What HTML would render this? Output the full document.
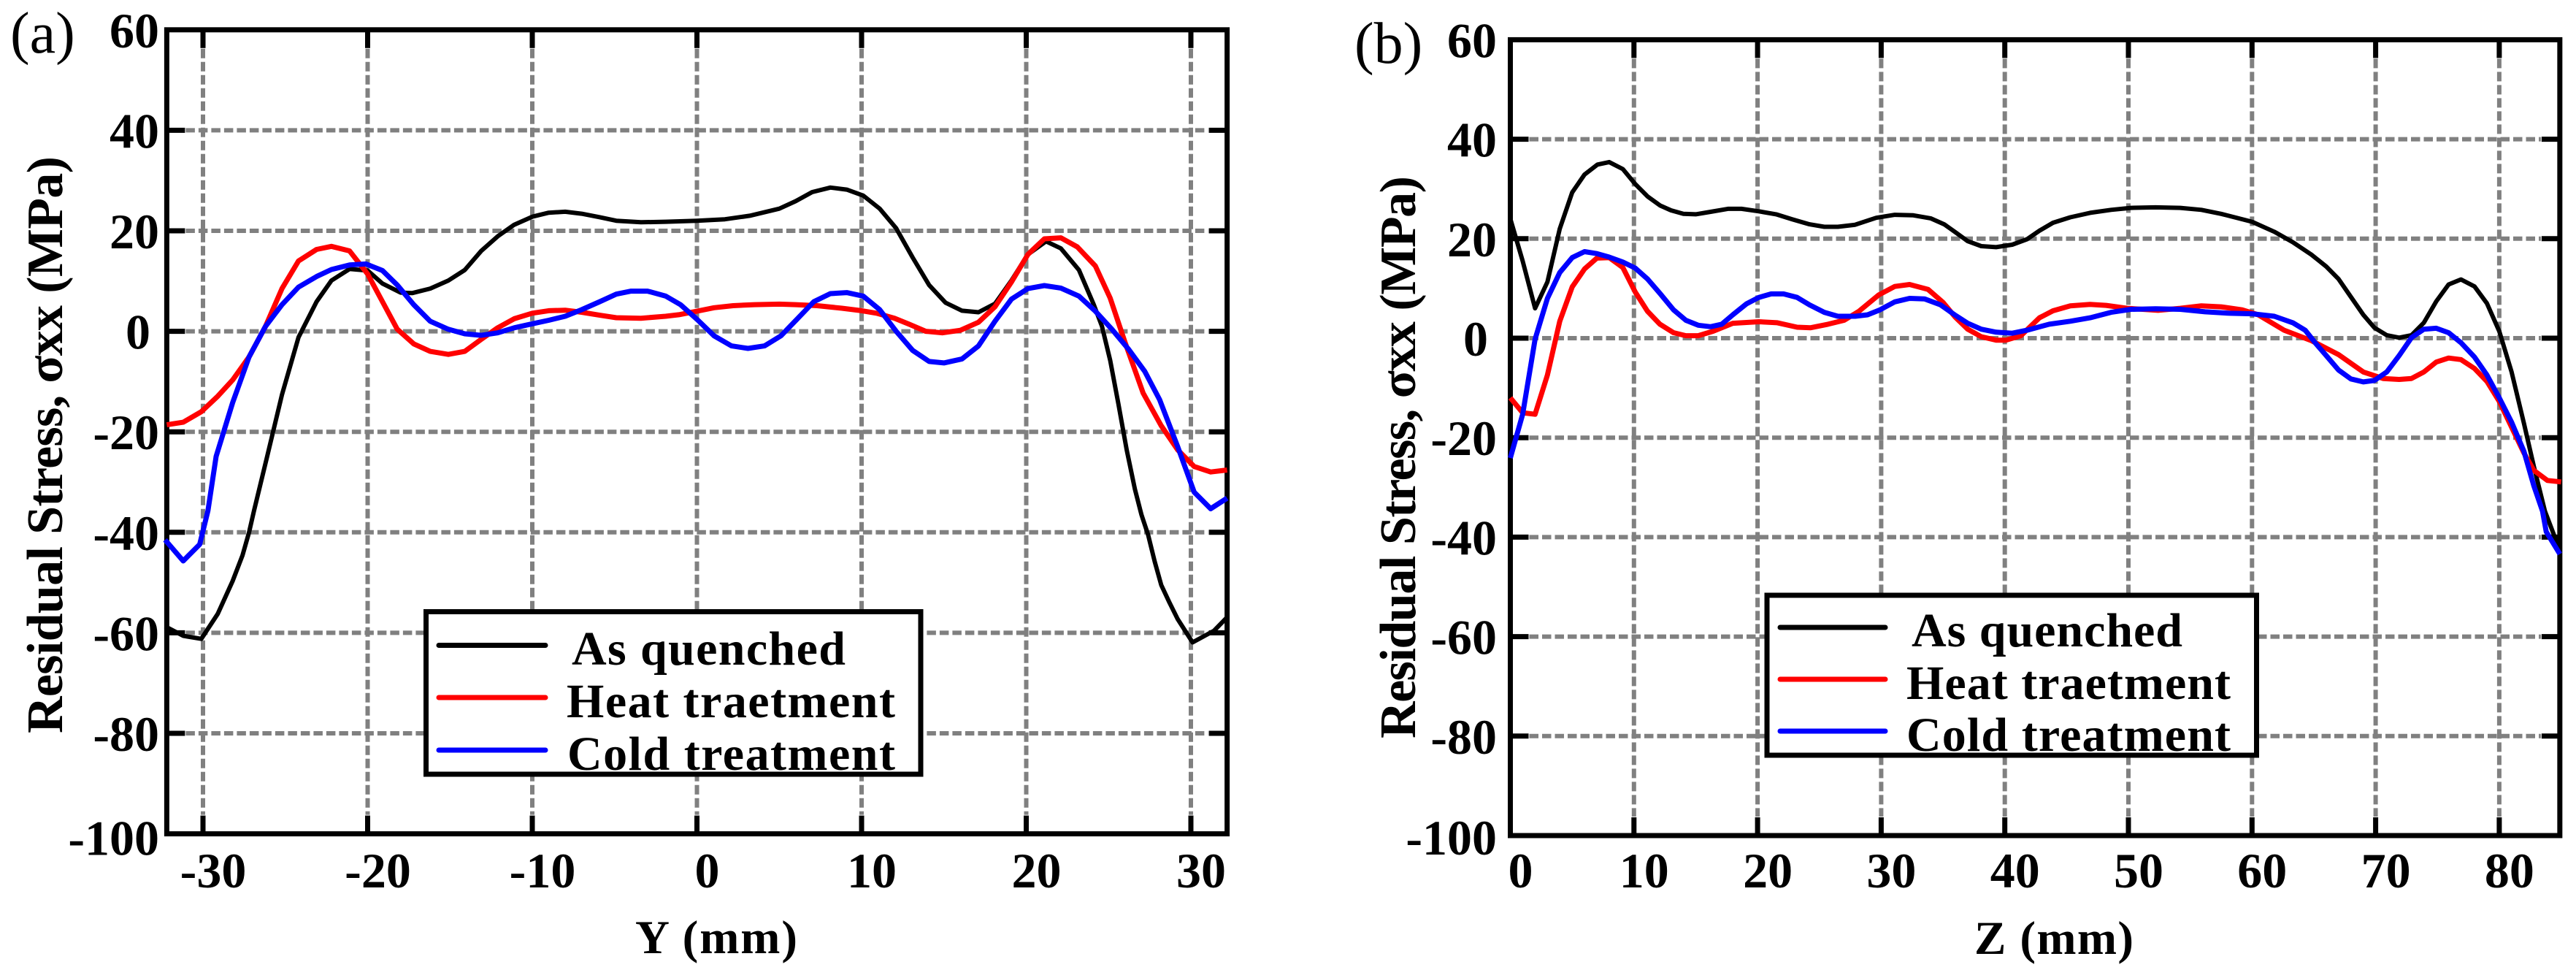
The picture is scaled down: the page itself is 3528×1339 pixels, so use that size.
<!DOCTYPE html>
<html lang="en">
<head>
<meta charset="utf-8">
<title>Residual stress profiles</title>
<style>
html,body{margin:0;padding:0;background:#fff;width:3528px;height:1339px;overflow:hidden}
svg{display:block}
text{font-family:"Liberation Serif",serif;fill:#000}
.b{font-weight:bold}
</style>
</head>
<body>
<svg id="figure" xmlns="http://www.w3.org/2000/svg" width="3528" height="1339" viewBox="0 0 3528 1339">
  <rect x="0" y="0" width="3528" height="1339" fill="#fff"></rect>
  <g id="panelA"></g>
  <g id="panelB"></g>

  <text x="14" y="72" font-size="80">(a)</text>
  <text class="b" x="85" y="1004" font-size="70" textLength="790" lengthAdjust="spacing" transform="rotate(-90 85 1004)">Residual Stress, σxx (MPa)</text>
  <text class="b" x="870" y="1305" font-size="65" textLength="222" lengthAdjust="spacing">Y (mm)</text>

  <g>
    <rect x="583.5" y="837.5" width="677.5" height="222.5" fill="#fff" stroke="#000" stroke-width="7"></rect>
    <line x1="601" x2="747" y1="883.5" y2="883.5" stroke="#000" stroke-width="7" stroke-linecap="round"></line>
    <line x1="601" x2="747" y1="955" y2="955" stroke="#f00" stroke-width="7" stroke-linecap="round"></line>
    <line x1="601" x2="747" y1="1027" y2="1027" stroke="#00f" stroke-width="7" stroke-linecap="round"></line>
    <text class="b" x="783" y="910" font-size="66" textLength="375" lengthAdjust="spacing">As quenched</text>
    <text class="b" x="776" y="982" font-size="66" textLength="450" lengthAdjust="spacing">Heat traetment</text>
    <text class="b" x="777" y="1054" font-size="66" textLength="449" lengthAdjust="spacing">Cold treatment</text>
  </g>

  <text x="1855" y="86" font-size="80">(b)</text>
  <text class="b" x="1938" y="1011" font-size="70" textLength="770" lengthAdjust="spacing" transform="rotate(-90 1938 1011)">Residual Stress, σxx (MPa)</text>
  <text class="b" x="2704" y="1306" font-size="65" textLength="218" lengthAdjust="spacing">Z (mm)</text>

  <g>
    <rect x="2420" y="815" width="670.5" height="219" fill="#fff" stroke="#000" stroke-width="7"></rect>
    <line x1="2438" x2="2582" y1="859" y2="859" stroke="#000" stroke-width="7" stroke-linecap="round"></line>
    <line x1="2438" x2="2582" y1="930" y2="930" stroke="#f00" stroke-width="7" stroke-linecap="round"></line>
    <line x1="2438" x2="2582" y1="1001" y2="1001" stroke="#00f" stroke-width="7" stroke-linecap="round"></line>
    <text class="b" x="2618" y="885" font-size="66" textLength="371" lengthAdjust="spacing">As quenched</text>
    <text class="b" x="2611" y="957" font-size="66" textLength="444" lengthAdjust="spacing">Heat traetment</text>
    <text class="b" x="2611" y="1028" font-size="66" textLength="444" lengthAdjust="spacing">Cold treatment</text>
  </g>
</svg>

<script>
// Shared y axis ticks
const yTicks = [60, 40, 20, 0, -20, -40, -60, -80, -100];

// Panel (a) x ticks
const aXTicks = [-30, -20, -10, 0, 10, 20, 30];

// Panel (a): As quenched
const aBlackX = [-32.3,-31.2,-30.1,-29.1,-28.2,-27.6,-27.2,-26.9,-26.1,-25.2,-24.2,-23.1,-22.2,-21.1,-20,-19.1,-18,-17.3,-16.2,-15.1,-14.1,-13.1,-12.1,-11.1,-10,-9,-8,-7,-5.9,-4.9,-3.4,-1.9,0,1.7,3.2,5,6,7,8.1,9.1,10.1,11.1,12.1,13.1,14.1,15.1,16.1,17.1,18.1,19.1,20.1,21.2,22.1,23.2,24.1,24.6,25.1,25.6,26.1,26.6,27.0,27.4,27.8,28.2,28.7,29.2,30.1,31.4,32.2];
const aBlackY = [-58.7,-60.6,-61.2,-56.2,-49.7,-44.6,-40,-35.7,-24.9,-12.6,-1.2,5.9,10.1,12.4,12.1,9.5,7.7,7.6,8.5,10.1,12.2,16,18.9,21.2,22.8,23.6,23.8,23.4,22.7,22,21.7,21.8,22,22.3,23,24.4,25.9,27.7,28.6,28.2,27,24.4,20.5,14.7,9.2,5.7,4.1,3.8,5.5,10.1,15.3,17.9,16.5,12.2,5.3,1,-5.8,-14.5,-23.6,-31.4,-36.5,-40.5,-45.8,-50.5,-54,-57.3,-61.9,-59.6,-56.9];

// Panel (a): Heat treatment
const aRedX = [-32.2,-31.2,-30.1,-29.1,-28.2,-27.2,-26.2,-25.2,-24.2,-23.1,-22.2,-21.1,-20,-19.1,-18.2,-17.2,-16.2,-15.1,-14.1,-13.1,-12.1,-11.1,-10,-9,-8,-7,-5.9,-4.9,-3.4,-1.9,-1.1,0,1.04,2.2,3.5,5,6,7.3,8.8,10,10.9,12,12.9,13.9,14.9,16,17.1,18.1,19.1,20.1,21.1,22.1,23.1,24.2,25.1,26,27.1,28.2,29.2,30.2,31.2,32.2];
const aRedY = [-18.6,-18.1,-16,-12.9,-9.7,-5.1,1,8.5,14,16.3,16.9,16,11.4,5.9,.4,-2.5,-4,-4.6,-4,-1.6,.7,2.5,3.6,4.1,4.2,3.8,3.2,2.7,2.6,3,3.3,4,4.7,5.1,5.3,5.4,5.3,5.1,4.6,4.1,3.6,2.6,1.4,0,-.3,.2,1.8,4.9,9.8,15.3,18.4,18.6,16.8,13,6.6,-2.2,-12.3,-18.8,-23.6,-26.9,-28,-27.6];

// Panel (a): Cold treatment
const aBlueX = [-32.3,-31.2,-30.2,-29.7,-29.2,-28.2,-27.2,-26.2,-25.2,-24.2,-23.1,-22.2,-21.1,-20.1,-19.1,-18.2,-17.2,-16.2,-15.1,-14.1,-13.1,-12.1,-11.1,-10,-9,-8,-7,-5.9,-4.9,-4,-3,-1.9,-1,0,1.04,2.1,3.1,4.1,5.1,6.1,7.1,8.1,9.1,10.1,11.1,12.1,13.1,14.1,15,16.1,17.1,18.1,19.1,20.1,21.1,22.1,23.2,24.2,25.2,26.2,27.2,28.1,29.2,30.2,31.2,32.2];
const aBlueY = [-41.5,-45.7,-42.4,-35.7,-24.9,-14.2,-5.1,1,5.3,8.8,10.9,12.3,13.2,13.4,12.1,9.2,5.3,2,.4,-.5,-.8,-.3,.7,1.5,2.2,3,4.3,5.9,7.4,8,8,7,5.3,2.4,-.9,-2.9,-3.4,-2.9,-.9,2.5,5.9,7.5,7.7,7,4.3,0,-3.8,-6,-6.3,-5.5,-2.9,2,6.4,8.5,9.1,8.6,7,4,.4,-3.5,-8,-13.6,-23,-32,-35.3,-33.2];

// Panel (b) x ticks
const bXTicks = [0, 10, 20, 30, 40, 50, 60, 70, 80];

// Panel (b): As quenched
const bBlackX = [0,1,2,3,4,5,6,7.05,8,9.1,10.1,11.1,12.1,13,14,15,16.2,17.6,18.7,20.1,21.5,22.8,24.2,25.4,26.5,27.9,29.6,31.1,32.6,34,35.1,36,37,38.1,39.3,40.6,41.8,42.8,43.9,45.3,46.9,48.6,50.2,52.2,54.2,55.9,57.5,60,61.8,63.3,64.8,66,67,68,69,69.9,70.9,71.9,72.9,73.9,74.9,75.9,76.9,78,79,80,81,82,82.8,83.7,84.6,84.9];
const bBlackY = [24,15.5,6,11.3,22,29.3,32.9,34.9,35.4,34,31,28.5,26.7,25.7,25,24.9,25.4,26,26,25.5,24.9,23.9,22.9,22.4,22.4,22.8,24.2,24.8,24.7,24.1,22.9,21.3,19.5,18.5,18.3,18.8,19.9,21.6,23.2,24.3,25.2,25.8,26.2,26.3,26.2,25.8,25,23.4,21.4,19.3,16.8,14.4,11.9,8.3,4.7,2.1,.6,.1,.6,3.1,7.4,10.8,11.8,10.4,7,1.4,-6.8,-17.2,-25.8,-34.8,-40.7,-43];

// Panel (b): Heat treatment
const bRedX = [0,1,2,3,4,5,6,7,8,9.1,10.1,11.1,12.1,13.2,14.2,15.2,16.4,18,20.1,21.6,23.2,24.3,25.7,27,28.2,29.8,31.1,32.3,33.8,35,36,37,38.1,39.3,40.1,41.3,42.8,43.9,45.3,46.9,48.2,49.9,52.4,54.2,55.9,57.5,59.2,60.5,62.6,64.8,67,69,70.6,71.9,72.9,73.9,74.9,75.9,76.9,78,79,80,81,82,82.8,83.9,85];
const bRedY = [-12,-15,-15.3,-7.4,3.4,10.3,13.9,16.1,16.2,14.2,9.3,5.4,2.8,1.1,.5,.5,1.4,3,3.3,3.1,2.2,2.1,2.8,3.6,5.4,8.7,10.4,10.8,9.8,7.2,4.2,1.8,.3,-.4,-.4,.5,4.1,5.5,6.5,6.8,6.6,6,5.6,6,6.5,6.3,5.7,4.7,1.6,-.5,-3.3,-6.8,-8.1,-8.3,-8.1,-6.8,-4.8,-4,-4.3,-6.1,-8.7,-12.7,-17.9,-23.1,-26.6,-28.6,-28.9];

// Panel (b): Cold treatment
const bBlueX = [0,1,2,3,4,5,6,7,8,9.1,10.1,11.1,12.1,13.2,14.2,15.2,16.2,17.1,18,19.1,20.1,21.1,22.1,23.2,24.2,25.4,26.5,27.9,28.9,29.9,31.1,32.3,33.5,34.8,36,37,38.1,39.3,40.6,41.8,43.6,45.3,46.9,48.6,50.2,52.2,54.2,56.2,58.2,60,61.8,63.3,64.3,65.1,66,67,68,69,69.9,70.9,71.9,72.9,73.9,74.9,75.9,76.9,78,79,80,81,82,82.8,83.5,83.8,84.9];
const bBlueY = [-24.1,-15.3,-.2,8,13.2,16.2,17.4,17,16.3,15.3,14.1,11.9,9,5.7,3.6,2.6,2.3,2.8,4.7,6.9,8.2,8.9,8.9,8.2,6.7,5.2,4.4,4.4,4.7,5.7,7.3,8,7.9,6.7,4.6,3,1.8,1.2,1,1.6,2.8,3.4,4.1,5.2,5.8,5.9,5.8,5.3,5,4.9,4.4,3.1,1.6,-.9,-3.5,-6.4,-8.2,-8.8,-8.5,-6.8,-3.5,.1,1.8,2,1.1,-.9,-3.8,-7.4,-12,-16.9,-22.8,-29.7,-34.8,-38.9,-43.4];

const SVGNS = 'http://www.w3.org/2000/svg';

function svgEl(tag, attrs) {
  const el = document.createElementNS(SVGNS, tag);
  for (const k in attrs) el.setAttribute(k, attrs[k]);
  return el;
}

function drawPanel(cfg) {
  const root = document.getElementById(cfg.rootId);
  const sx = v => cfg.x0 + v * cfg.xScale;
  const sy = v => cfg.y0 - v * cfg.yScale;
  const left = sx(cfg.xMin), right = sx(cfg.xMax);
  const top = sy(60), bottom = sy(-100);
  const tickLen = 25;
  const GRID = '#808080';

  // horizontal grid lines
  yTicks.slice(1, -1).forEach(v => {
    const g = svgEl('line', {x1: left + tickLen + 1, x2: right - tickLen - 1, y1: sy(v), y2: sy(v), stroke: GRID, 'stroke-width': 6, 'stroke-dasharray': '12.5 5'});
    
    
    root.appendChild(g);
  });

  // vertical grid lines
  cfg.xTicks.forEach(v => {
    const g = svgEl('line', {x1: sx(v), x2: sx(v), y1: top + tickLen + 1, y2: bottom - tickLen - 1, stroke: GRID, 'stroke-width': 6, 'stroke-dasharray': '13 5'});
    
    
    root.appendChild(g);
  });

  // y ticks and labels
  yTicks.forEach(v => {
    if (v !== 60 && v !== -100) {
      const t1 = svgEl('line', {x1: left, x2: left + tickLen, y1: sy(v), y2: sy(v), stroke: '#000', 'stroke-width': 7});
      
      
      root.appendChild(t1);
      const t2 = svgEl('line', {x1: right - tickLen, x2: right, y1: sy(v), y2: sy(v), stroke: '#000', 'stroke-width': 7});
      
      
      root.appendChild(t2);
    }
    const zero = v === 0;
    const lab = svgEl('text', {x: zero ? cfg.yLabelRight - 12 : cfg.yLabelRight, y: sy(v) + (v === -100 ? cfg.y100Shift : 24), 'text-anchor': 'end', 'font-size': 68, 'font-weight': 'bold'});
    lab.textContent = String(v);
    
    
    root.appendChild(lab);
  });

  // x ticks and labels
  cfg.xTicks.forEach(v => {
    const t1 = svgEl('line', {x1: sx(v), x2: sx(v), y1: top, y2: top + tickLen, stroke: '#000', 'stroke-width': 7});
    
    
    root.appendChild(t1);
    const t2 = svgEl('line', {x1: sx(v), x2: sx(v), y1: bottom - tickLen, y2: bottom, stroke: '#000', 'stroke-width': 7});
    
    
    root.appendChild(t2);
    const lab = svgEl('text', {x: sx(v) + 14, y: 1215, 'text-anchor': 'middle', 'font-size': 68, 'font-weight': 'bold'});
    lab.textContent = String(v);
    
    
    root.appendChild(lab);
  });

  // plot frame
  const frame = svgEl('rect', {x: left, y: top, width: right - left, height: bottom - top, fill: 'none', stroke: '#000', 'stroke-width': 7});
  
  
  root.appendChild(frame);

  // series
  cfg.series.forEach(s => {
    const pts = s.xs.map((x, i) => sx(x).toFixed(1) + ',' + sy(s.ys[i]).toFixed(1)).join(' ');
    const line = svgEl('polyline', {points: pts, fill: 'none', stroke: s.color, 'stroke-width': s.width, 'stroke-linejoin': 'round'});
    
    
    root.appendChild(line);
  });
}

drawPanel({
  rootId: 'panelA', x0: 954.5, xScale: 22.55, y0: 453.6, yScale: 6.88,
  xMin: -32.2, xMax: 32.2, xTicks: aXTicks, yLabelRight: 218, y100Shift: 29,
  series: [
    {name: 'series-as-quenched-a', xs: aBlackX, ys: aBlackY, color: '#000', width: 6},
    {name: 'series-heat-treatment-a', xs: aRedX, ys: aRedY, color: '#f00', width: 7},
    {name: 'series-cold-treatment-a', xs: aBlueX, ys: aBlueY, color: '#00f', width: 7}
  ]
});

drawPanel({
  rootId: 'panelB', x0: 2068.5, xScale: 16.93, y0: 463, yScale: 6.81,
  xMin: 0, xMax: 84.9, xTicks: bXTicks, yLabelRight: 2050, y100Shift: 26,
  series: [
    {name: 'series-as-quenched-b', xs: bBlackX, ys: bBlackY, color: '#000', width: 6},
    {name: 'series-heat-treatment-b', xs: bRedX, ys: bRedY, color: '#f00', width: 7},
    {name: 'series-cold-treatment-b', xs: bBlueX, ys: bBlueY, color: '#00f', width: 7}
  ]
});
</script>
</body>
</html>
